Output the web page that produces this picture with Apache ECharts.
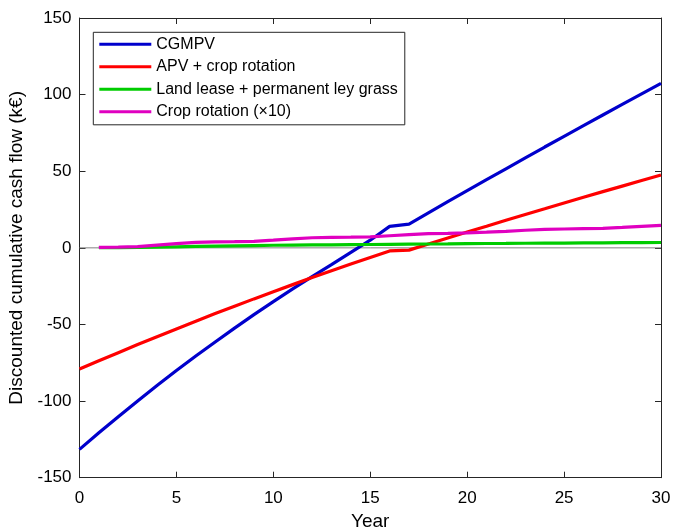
<!DOCTYPE html>
<html>
<head>
<meta charset="utf-8">
<script src="https://cdn.jsdelivr.net/npm/echarts@6/dist/echarts.min.js"></script>
<style>
html,body{margin:0;padding:0;background:#fff;}
#chart{width:673px;height:528px;}
</style>
</head>
<body>
<div id="chart"></div>
<script>
const years = [0,1,2,3,4,5,6,7,8,9,10,11,12,13,14,15,16,17,18,19,20,21,22,23,24,25,26,27,28,29,30];
const cgmpv = [-131.5,-120.7,-110.2,-99.9,-89.9,-80.1,-70.6,-61.4,-52.4,-43.6,-35.1,-26.8,-18.8,-11.0,-3.0,5.0,14.0,15.5,22.8,30.1,37.3,44.5,51.6,58.7,65.8,72.8,79.8,86.7,93.6,100.5,107.3];
const apvCrop = [-79.1,-73.7,-68.4,-63.1,-58.0,-52.9,-47.9,-42.9,-38.1,-33.3,-28.6,-24.0,-19.4,-15.0,-10.6,-6.3,-2.0,-1.5,2.5,6.4,10.3,14.1,18.0,21.8,25.5,29.3,33.0,36.7,40.3,43.9,47.5];
const landLease = [null,0.1,0.2,0.3,0.5,0.7,0.9,1.1,1.3,1.5,1.7,1.8,1.9,2.0,2.1,2.2,2.3,2.4,2.5,2.6,2.8,2.85,2.9,3.0,3.05,3.1,3.2,3.3,3.35,3.4,3.5];
const cropRotation = [null,0.3,0.5,0.8,1.8,2.8,3.6,3.9,4.0,4.2,5.0,5.9,6.6,6.9,7.0,7.2,7.9,8.6,9.3,9.5,9.8,10.2,10.8,11.5,12.1,12.3,12.5,12.7,13.3,14.0,14.7];
const seriesNames = ['CGMPV','APV + crop rotation','Land lease + permanent ley grass','Crop rotation (\u00d710)'];
const seriesColors = ['#0000cc','#ff0000','#00cc00','#e000c0'];
const xTicks = {min:0, max:30, interval:5};
const yTicks = {min:-150, max:150, interval:50};
const zeroLineX = [0,30];
const zeroLineY = [0,0];

function pairs(xs, ys){ return xs.map((x,i)=>[x, ys[i]]); }

const chart = echarts.init(document.getElementById('chart'), null, {renderer:'canvas'});
const axisColor = '#262626';
const font = 'Arial, "Liberation Sans", Helvetica, sans-serif';
const allData = [cgmpv, apvCrop, landLease, cropRotation];

const option = {
  animation:false,
  backgroundColor:'#fff',
  textStyle:{fontFamily:font},
  grid:{left:79.5, right:12, top:18, bottom:50.3, containLabel:false, outerBoundsMode:'none'},
  legend:{
    left:93.3, top:32.3, orient:'vertical',
    padding:[4,7,5,6], itemGap:6.5,
    itemWidth:52, itemHeight:3,
    icon:'rect',
    borderColor:axisColor, borderWidth:1, backgroundColor:'#fff',
    textStyle:{fontSize:16, color:'#000', fontFamily:font},
    data:seriesNames
  },
  xAxis:[{
    type:'value', min:xTicks.min, max:xTicks.max, interval:xTicks.interval,
    name:'Year', nameLocation:'middle', nameGap:35,
    nameTextStyle:{fontSize:19, color:'#000', fontFamily:font},
    axisLine:{onZero:false, lineStyle:{color:axisColor, width:1}},
    axisTick:{inside:true, length:6, lineStyle:{color:axisColor}},
    axisLabel:{fontSize:17, color:'#000', margin:12, fontFamily:font},
    splitLine:{show:false}
  },{
    type:'value', position:'top', min:xTicks.min, max:xTicks.max, interval:xTicks.interval,
    axisLine:{onZero:false, lineStyle:{color:axisColor, width:1}},
    axisTick:{inside:true, length:6, lineStyle:{color:axisColor}},
    axisLabel:{show:false}, splitLine:{show:false}
  }],
  yAxis:[{
    type:'value', min:yTicks.min, max:yTicks.max, interval:yTicks.interval,
    name:'Discounted cumulative cash flow (k\u20ac)', nameLocation:'middle', nameGap:45, nameRotate:90,
    nameTextStyle:{fontSize:19, color:'#000', fontFamily:font},
    axisLine:{show:true, onZero:false, lineStyle:{color:axisColor, width:1}},
    axisTick:{show:true, inside:true, length:6, lineStyle:{color:axisColor}},
    axisLabel:{fontSize:17, color:'#000', margin:8, fontFamily:font},
    splitLine:{show:false}
  },{
    type:'value', position:'right', min:yTicks.min, max:yTicks.max, interval:yTicks.interval,
    axisLine:{show:true, onZero:false, lineStyle:{color:axisColor, width:1}},
    axisTick:{show:true, inside:true, length:6, lineStyle:{color:axisColor}},
    axisLabel:{show:false}, splitLine:{show:false}
  }],
  series:[
    {
      name:'zero', type:'line', data:pairs(zeroLineX, zeroLineY),
      showSymbol:false, silent:true, z:1,
      lineStyle:{color:'#808080', width:1}
    }
  ].concat(seriesNames.map((n,i)=>({
    name:n, type:'line', data:pairs(years, allData[i]),
    showSymbol:false, symbol:'none', connectNulls:false, z:2+i,
    itemStyle:{color:seriesColors[i]},
    lineStyle:{color:seriesColors[i], width:3.2}
  })))
};
chart.setOption(option);
</script>
</body>
</html>
